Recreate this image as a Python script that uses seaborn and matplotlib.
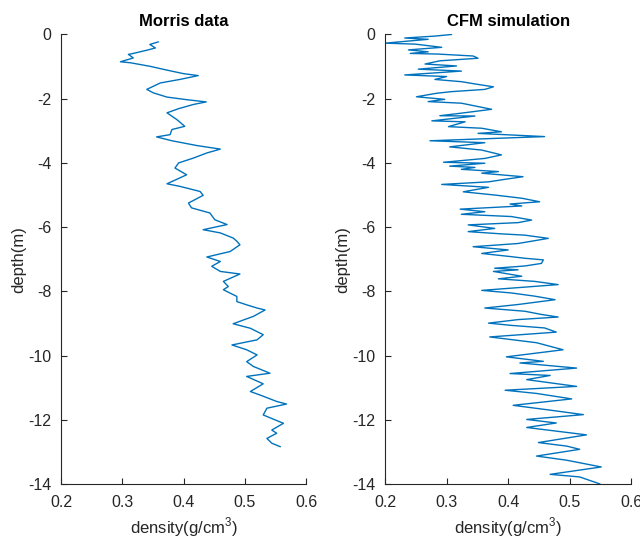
import matplotlib
matplotlib.use("Agg")
import pandas as pd
import seaborn as sns
import matplotlib.pyplot as plt

# Morris data (depth in m, density in g/cm3)
morris_depth = [
    -0.23, -0.31, -0.42, -0.49, -0.59, -0.62, -0.73, -0.85, -0.88, -0.99,
    -1.11, -1.22, -1.28, -1.40, -1.51, -1.71, -1.82, -1.95, -2.03, -2.10,
    -2.18, -2.31, -2.44, -2.65, -2.86, -2.96, -3.12, -3.19, -3.31, -3.46,
    -3.57, -3.69, -3.85, -4.00, -4.16, -4.37, -4.65, -4.73, -4.89, -5.01,
    -5.25, -5.40, -5.56, -5.77, -5.92, -6.08, -6.18, -6.34, -6.44, -6.55,
    -6.76, -6.93, -7.07, -7.22, -7.38, -7.46, -7.69, -7.85, -7.95, -8.16,
    -8.32, -8.42, -8.52, -8.58, -8.78, -8.89, -9.01, -9.15, -9.35, -9.51,
    -9.67, -9.82, -9.98, -10.19, -10.34, -10.55, -10.65, -10.88, -11.12, -11.23,
    -11.43, -11.51, -11.64, -11.85, -12.00, -12.11, -12.32, -12.42, -12.58, -12.73,
    -12.84,
]
morris_density = [
    0.359, 0.345, 0.354, 0.340, 0.318, 0.310, 0.318, 0.297, 0.313, 0.345,
    0.373, 0.400, 0.424, 0.394, 0.362, 0.340, 0.351, 0.373, 0.405, 0.437,
    0.416, 0.392, 0.373, 0.389, 0.402, 0.381, 0.378, 0.356, 0.381, 0.422,
    0.460, 0.438, 0.416, 0.392, 0.386, 0.405, 0.373, 0.394, 0.427, 0.432,
    0.408, 0.413, 0.443, 0.451, 0.471, 0.432, 0.460, 0.481, 0.487, 0.492,
    0.476, 0.438, 0.460, 0.446, 0.460, 0.492, 0.465, 0.473, 0.465, 0.487,
    0.487, 0.503, 0.520, 0.533, 0.514, 0.498, 0.481, 0.509, 0.530, 0.520,
    0.479, 0.503, 0.520, 0.503, 0.514, 0.541, 0.503, 0.530, 0.509, 0.525,
    0.552, 0.568, 0.536, 0.530, 0.549, 0.563, 0.544, 0.552, 0.536, 0.544,
    0.558,
]

# CFM simulation
cfm_depth = [
    0.00, -0.05, -0.11, -0.15, -0.27, -0.30, -0.40, -0.48, -0.54, -0.59,
    -0.61, -0.67, -0.74, -0.82, -0.92, -0.98, -1.08, -1.14, -1.26, -1.31,
    -1.40, -1.47, -1.54, -1.63, -1.71, -1.78, -1.83, -1.94, -2.02, -2.09,
    -2.14, -2.33, -2.45, -2.53, -2.54, -2.69, -2.72, -2.87, -2.92, -3.03,
    -3.08, -3.18, -3.31, -3.37, -3.50, -3.60, -3.75, -3.86, -3.98, -4.01,
    -4.10, -4.14, -4.20, -4.27, -4.32, -4.43, -4.51, -4.59, -4.67, -4.76,
    -4.90, -5.00, -5.10, -5.21, -5.28, -5.34, -5.44, -5.52, -5.60, -5.67,
    -5.78, -5.86, -5.93, -6.04, -6.14, -6.21, -6.25, -6.35, -6.51, -6.61,
    -6.71, -6.82, -6.92, -6.97, -7.02, -7.13, -7.21, -7.28, -7.33, -7.38,
    -7.53, -7.61, -7.69, -7.79, -7.86, -7.97, -8.05, -8.15, -8.26, -8.41,
    -8.52, -8.62, -8.72, -8.80, -8.88, -8.99, -9.06, -9.14, -9.27, -9.42,
    -9.60, -9.82, -10.04, -10.18, -10.23, -10.39, -10.56, -10.62, -10.75, -10.96,
    -11.08, -11.18, -11.35, -11.55, -11.70, -11.84, -11.99, -12.10, -12.24, -12.47,
    -12.71, -12.82, -12.92, -13.13, -13.26, -13.47, -13.70, -13.78, -14.00,
]
cfm_density = [
    0.308, 0.281, 0.232, 0.270, 0.200, 0.249, 0.292, 0.238, 0.270, 0.241,
    0.286, 0.343, 0.351, 0.289, 0.265, 0.316, 0.254, 0.324, 0.232, 0.300,
    0.281, 0.324, 0.346, 0.376, 0.362, 0.308, 0.284, 0.251, 0.297, 0.270,
    0.324, 0.373, 0.324, 0.289, 0.346, 0.276, 0.330, 0.303, 0.357, 0.389,
    0.351, 0.459, 0.273, 0.362, 0.305, 0.357, 0.389, 0.362, 0.295, 0.362,
    0.305, 0.346, 0.324, 0.384, 0.357, 0.424, 0.395, 0.368, 0.292, 0.368,
    0.327, 0.378, 0.422, 0.451, 0.403, 0.422, 0.322, 0.362, 0.324, 0.405,
    0.438, 0.416, 0.335, 0.378, 0.335, 0.389, 0.427, 0.465, 0.416, 0.343,
    0.400, 0.357, 0.405, 0.427, 0.457, 0.454, 0.427, 0.378, 0.416, 0.376,
    0.422, 0.384, 0.443, 0.481, 0.432, 0.357, 0.405, 0.443, 0.476, 0.416,
    0.362, 0.427, 0.454, 0.481, 0.416, 0.368, 0.405, 0.459, 0.478, 0.370,
    0.446, 0.489, 0.397, 0.457, 0.419, 0.511, 0.403, 0.468, 0.430, 0.511,
    0.395, 0.446, 0.503, 0.408, 0.468, 0.522, 0.430, 0.478, 0.430, 0.527,
    0.449, 0.495, 0.516, 0.446, 0.495, 0.551, 0.468, 0.516, 0.549,
]

sns.set_style("white")
plt.rcParams['font.family'] = ['Liberation Sans', 'DejaVu Sans']
plt.rcParams['mathtext.fontset'] = 'custom'
plt.rcParams['mathtext.rm'] = 'Liberation Sans'
plt.rcParams['axes.unicode_minus'] = False

line_color = '#0072BD'
axis_color = '#262626'

fig = plt.figure(figsize=(6.4, 5.38), dpi=100)
ax1 = fig.add_axes([0.0953, 0.1004, 0.383, 0.8355])
ax2 = fig.add_axes([0.6016, 0.1004, 0.385, 0.8355])

panels = [
    (ax1, morris_density, morris_depth, 'Morris data'),
    (ax2, cfm_density, cfm_depth, 'CFM simulation'),
]

for ax, dens, dep, title in panels:
    df = pd.DataFrame({'density': dens, 'depth': dep})
    sns.lineplot(data=df, x='density', y='depth', sort=False, estimator=None,
                 orient='y', color=line_color, linewidth=1.0, ax=ax)
    ax.set_xlim(0.2, 0.6)
    ax.set_ylim(-14, 0)
    ax.set_xticks([0.2, 0.3, 0.4, 0.5, 0.6])
    ax.set_xticklabels(['0.2', '0.3', '0.4', '0.5', '0.6'])
    ax.set_yticks(range(-14, 1, 2))
    ax.set_title(title, fontsize=12, fontweight='bold', color='black', pad=6)
    ax.set_xlabel('density(g/cm$^3$)', fontsize=12, color=axis_color, labelpad=3.5)
    ax.set_ylabel('depth(m)', fontsize=12, color=axis_color)
    ax.yaxis.set_label_coords(-0.14, 0.5)
    sns.despine(ax=ax)
    for side in ['left', 'bottom']:
        ax.spines[side].set_color(axis_color)
        ax.spines[side].set_linewidth(0.8)
    ax.tick_params(direction='in', length=4, width=0.8, color=axis_color,
                   labelcolor=axis_color, labelsize=11.5, left=True, bottom=True)
    ax.tick_params(axis='x', pad=8)
    ax.tick_params(axis='y', pad=7)

fig.savefig('out.png', dpi=100)
